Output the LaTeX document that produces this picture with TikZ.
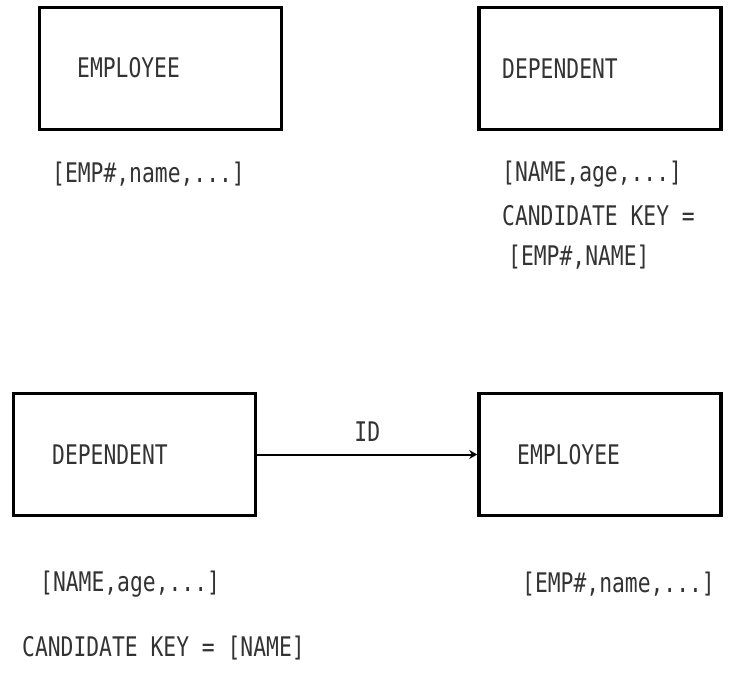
\documentclass[tikz,border=0pt]{standalone}
\usepackage{fontspec}
\usetikzlibrary{arrows.meta}
\newfontfamily\dotfont[FakeStretch=0.79]{DejaVu Sans Mono}
\begin{document}
\begin{tikzpicture}[x=1pt,y=-1pt,
  entity/.style={draw=black, line width=3.6pt, minimum width=242pt, minimum height=122pt, inner sep=0pt},
  txt/.style={font=\dotfont\fontsize{27}{30}\selectfont, text=black!80, inner sep=0pt, anchor=west},
  rel/.style={line width=2pt, -{Stealth[length=8pt,width=9pt]}}]
  \useasboundingbox (0,0) rectangle (730,678);

  % upper pair of entities
  \node[entity] (emp1) at (160.5,68.5) {};
  \node[txt] (emp1name) at (77,68) {EMPLOYEE};
  \node[entity] (dep1) at (600,68.5) {};
  \node[txt] (dep1name) at (502,69) {DEPENDENT};

  \node[txt] (emp1attr) at (52,174) {[EMP\#,name,...]};
  \node[txt] (dep1attr) at (502,174) {[NAME,age,...]};
  \node[txt] (dep1key) at (502,216) {CANDIDATE KEY =};
  \node[txt] (dep1keyval) at (508,257) {[EMP\#,NAME]};

  % lower pair joined by the ID relationship
  \node[entity] (dep2) at (134.5,454.5) {};
  \node[txt] (dep2name) at (52,455) {DEPENDENT};
  \node[entity] (emp2) at (600,454.5) {};
  \node[txt] (emp2name) at (517,455) {EMPLOYEE};

  \draw[rel] (dep2.east) -- node[above=12pt, font=\dotfont\fontsize{27}{30}\selectfont, text=black!80, inner sep=0pt] (idlabel) {ID} (emp2.west);

  \node[txt] (dep2attr) at (40,584) {[NAME,age,...]};
  \node[txt] (emp2attr) at (522,584) {[EMP\#,name,...]};
  \node[txt] (dep2key) at (22,648) {CANDIDATE KEY = [NAME]};
\end{tikzpicture}
\end{document}
